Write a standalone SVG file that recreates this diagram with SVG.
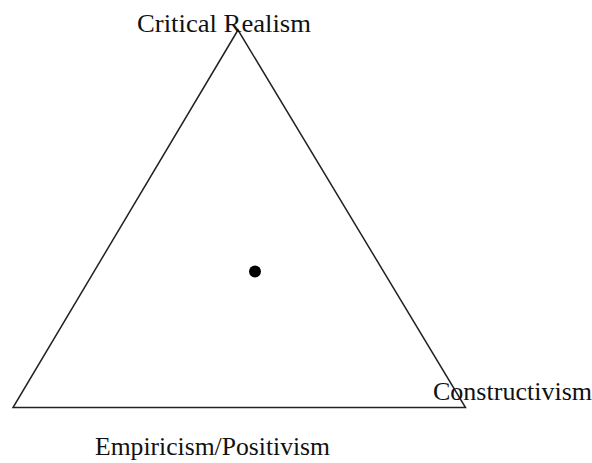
<svg xmlns="http://www.w3.org/2000/svg" width="592" height="463" viewBox="0 0 592 463">
<style>
.lbl{font-family:"Liberation Serif","Times New Roman",serif;font-size:25.5px;fill:#111}
.edge{fill:none;stroke:#222;stroke-width:1.5;stroke-linejoin:miter}
</style>
<rect width="592" height="463" fill="#fff"/>
<g id="connectors">
<polygon class="edge" points="238,30 13,407.5 465.5,407.5"/>
</g>
<g id="node-critical-realism"><text class="lbl" x="137" y="31.5" textLength="174" lengthAdjust="spacingAndGlyphs">Critical Realism</text></g>
<g id="node-constructivism"><text class="lbl" x="433" y="400" textLength="159" lengthAdjust="spacingAndGlyphs">Constructivism</text></g>
<g id="node-empiricism"><text class="lbl" x="95" y="455" textLength="235" lengthAdjust="spacingAndGlyphs">Empiricism/Positivism</text></g>
<g id="node-dot"><circle cx="255" cy="271.5" r="6" fill="#000"/></g>
</svg>
